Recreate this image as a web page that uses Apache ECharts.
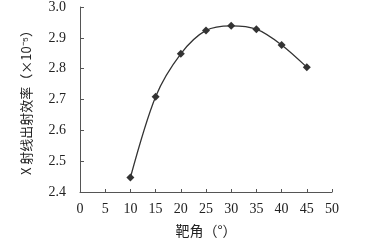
<!DOCTYPE html>
<html><head><meta charset="utf-8">
<script src="https://cdn.jsdelivr.net/npm/echarts@6/dist/echarts.min.js"></script>
<style>html,body{margin:0;padding:0;background:#fff}#c{width:384px;height:243px}</style>
</head><body><div id="c"></div>
<script>
const angles = [10, 15, 20, 25, 30, 35, 40, 45];
const efficiency = [2.447, 2.709, 2.848, 2.924, 2.939, 2.928, 2.877, 2.805];
const xTicks = [0, 5, 10, 15, 20, 25, 30, 35, 40, 45, 50];
const yTicks = [2.4, 2.5, 2.6, 2.7, 2.8, 2.9, 3.0];
const xTitle = '靶角（°）';
const yTitle = 'X 射线出射效率（×10⁻⁵）';

const chart = echarts.init(document.getElementById('c'));
const serif = '"Liberation Serif", "DejaVu Serif", serif';
const cjk = '"Noto Sans CJK SC", sans-serif';
chart.setOption({
  animation: false,
  grid: {left: 80, right: 52, top: 7, bottom: 50},
  xAxis: {
    type: 'value', min: 0, max: 50, interval: 5,
    name: xTitle, nameLocation: 'middle', nameGap: 32,
    nameTextStyle: {fontFamily: cjk, fontSize: 14, color: '#222'},
    axisLine: {lineStyle: {color: '#555', width: 1}},
    axisTick: {inside: true, length: 3, lineStyle: {color: '#555'}},
    axisLabel: {fontFamily: serif, fontSize: 14, color: '#222', margin: 10,
      formatter: v => xTicks.includes(v) ? String(v) : ''},
    splitLine: {show: false}
  },
  yAxis: {
    type: 'value', min: 2.4, max: 3.0, interval: 0.1,
    name: yTitle, nameLocation: 'middle', nameGap: 47, nameRotate: 90,
    nameTextStyle: {fontFamily: cjk, fontSize: 13, color: '#222'},
    axisLine: {show: true, lineStyle: {color: '#555', width: 1}},
    axisTick: {show: true, inside: true, length: 4, lineStyle: {color: '#555'}},
    axisLabel: {fontFamily: serif, fontSize: 14, color: '#222', margin: 14,
      formatter: v => yTicks.some(t => Math.abs(t - v) < 1e-6) ? v.toFixed(1) : ''},
    splitLine: {show: false}
  },
  series: [{
    type: 'line', smooth: 0.3,
    data: angles.map((a, i) => [a, efficiency[i]]),
    symbol: 'diamond', symbolSize: 8,
    itemStyle: {color: '#333'},
    lineStyle: {color: '#333', width: 1.3}
  }]
});
</script></body></html>
